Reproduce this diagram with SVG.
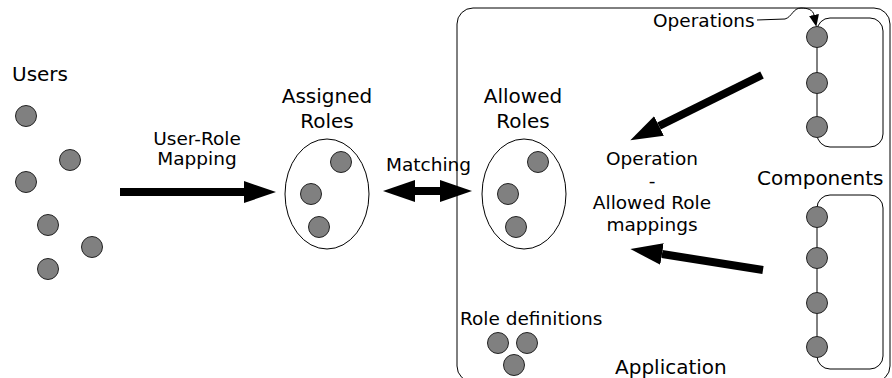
<svg xmlns="http://www.w3.org/2000/svg" width="892" height="378" viewBox="0 0 892 378">
  <style>
    .dot { fill: #808080; stroke: #222; stroke-width: 1; }
    .frame { fill: none; stroke: #000; stroke-width: 1; }
    .big { font-family: "DejaVu Sans", "Liberation Sans", sans-serif; font-size: 20px; fill: #000; }
    .small { font-family: "DejaVu Sans", "Liberation Sans", sans-serif; font-size: 18.5px; fill: #000; }
    .mid { text-anchor: middle; }
    .thick { fill: none; stroke: #000; stroke-width: 8; }
    .thin { fill: none; stroke: #000; stroke-width: 1; }
  </style>
  <defs>
    <marker id="head" markerUnits="userSpaceOnUse" markerWidth="32" markerHeight="22" viewBox="0 0 32 22" refX="0" refY="11" orient="auto-start-reverse">
      <path d="M0,0 L32,11 L0,22 z" fill="#000"/>
    </marker>
    <marker id="tip" markerUnits="userSpaceOnUse" markerWidth="12" markerHeight="10" viewBox="0 0 12 10" refX="0" refY="5" orient="auto">
      <path d="M0,0 L12,5 L0,10 z" fill="#000"/>
    </marker>
  </defs>

  <!-- application boundary -->
  <g id="application">
    <rect class="frame" x="457" y="8" width="433" height="374" rx="16"/>
    <text class="big" x="615" y="374" font-size="21">Application</text>
  </g>

  <!-- users -->
  <g id="users">
    <text class="big" x="12" y="81">Users</text>
    <circle class="dot" cx="26" cy="116" r="10.5"/>
    <circle class="dot" cx="70" cy="160" r="10.5"/>
    <circle class="dot" cx="26" cy="182" r="10.5"/>
    <circle class="dot" cx="48" cy="225" r="10.5"/>
    <circle class="dot" cx="92" cy="247" r="10.5"/>
    <circle class="dot" cx="48" cy="269" r="10.5"/>
  </g>

  <!-- assigned roles -->
  <g id="assigned-roles">
    <text class="big mid" x="327" y="103">Assigned</text>
    <text class="big mid" x="327" y="128">Roles</text>
    <ellipse class="frame" cx="327" cy="194" rx="42" ry="55"/>
    <circle class="dot" cx="341" cy="162" r="10.5"/>
    <circle class="dot" cx="311" cy="194" r="10.5"/>
    <circle class="dot" cx="319" cy="227" r="10.5"/>
  </g>

  <!-- allowed roles -->
  <g id="allowed-roles">
    <text class="big mid" x="523" y="103">Allowed</text>
    <text class="big mid" x="523" y="128">Roles</text>
    <ellipse class="frame" cx="524" cy="194" rx="42" ry="55"/>
    <circle class="dot" cx="538" cy="162" r="10.5"/>
    <circle class="dot" cx="508" cy="194" r="10.5"/>
    <circle class="dot" cx="516" cy="227" r="10.5"/>
  </g>

  <!-- role definitions -->
  <g id="role-definitions">
    <text class="small" x="460" y="325" font-size="17.5">Role definitions</text>
    <circle class="dot" cx="498" cy="343" r="10.5"/>
    <circle class="dot" cx="527" cy="343" r="10.5"/>
    <circle class="dot" cx="514" cy="365" r="10.5"/>
  </g>

  <!-- operation / allowed role mappings -->
  <g id="mappings">
    <text class="small mid" x="652" y="165">Operation</text>
    <text class="small mid" x="652" y="187">-</text>
    <text class="small mid" x="652" y="209">Allowed Role</text>
    <text class="small mid" x="652" y="231">mappings</text>
  </g>

  <!-- operations -->
  <g id="operations">
    <text class="small" x="653" y="27">Operations</text>
    <rect class="frame" x="817" y="18" width="66" height="129" rx="13"/>
    <circle class="dot" cx="817" cy="37" r="10.5"/>
    <circle class="dot" cx="817" cy="83" r="10.5"/>
    <circle class="dot" cx="817" cy="127" r="10.5"/>
  </g>

  <!-- components -->
  <g id="components">
    <text class="big" x="757" y="185">Components</text>
    <rect class="frame" x="817" y="195" width="66" height="174" rx="13"/>
    <circle class="dot" cx="817" cy="217" r="10.5"/>
    <circle class="dot" cx="817" cy="258" r="10.5"/>
    <circle class="dot" cx="817" cy="303" r="10.5"/>
    <circle class="dot" cx="817" cy="347" r="10.5"/>
  </g>

  <!-- connectors -->
  <g id="connectors">
    <text class="small mid" x="197" y="145">User-Role</text>
    <text class="small mid" x="197" y="165">Mapping</text>
    <line class="thick" x1="120" y1="192" x2="244" y2="192" marker-end="url(#head)"/>

    <text class="small" x="386" y="171">Matching</text>
    <line class="thick" x1="415" y1="191" x2="440" y2="191" marker-start="url(#head)" marker-end="url(#head)"/>

    <line class="thick" x1="762" y1="75" x2="659" y2="126" marker-end="url(#head)"/>
    <line class="thick" x1="763" y1="270" x2="662" y2="254" marker-end="url(#head)"/>

    <path class="thin" d="M757,20 L785,19 C792,17 793,8 801,8 C808,8 813,10 814,15" marker-end="url(#tip)"/>
  </g>
</svg>
